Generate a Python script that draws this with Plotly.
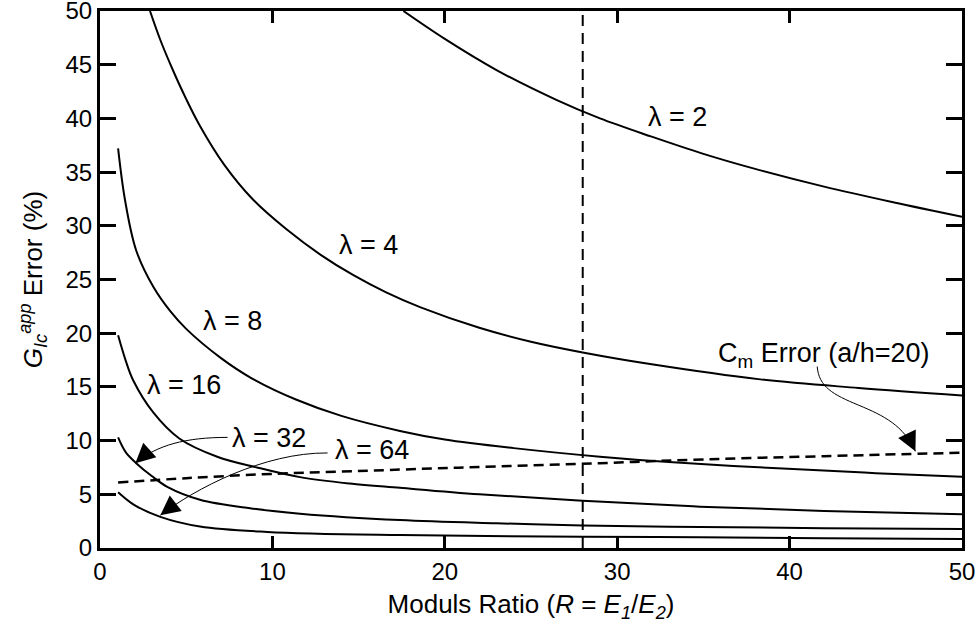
import plotly.graph_objects as go

# ---- data ----
lam2_x = [17.6, 20, 23, 26.5, 29, 32, 35, 38, 42, 46, 50]
lam2_y = [50, 47.4, 44.5, 41.7, 40.0, 38.3, 36.7, 35.3, 33.65, 32.2, 30.85]

lam4_x = [2.9, 3.5, 4.2, 5.0, 5.8, 7.2, 8.9, 10.8, 12.8, 14.7, 16.6, 18.6, 22, 25, 28, 32, 38.3, 44, 50]
lam4_y = [50, 47.3, 44.6, 41.8, 39.3, 35.7, 32.4, 29.7, 27.3, 25.4, 23.8, 22.4, 20.5, 19.2, 18.2, 17.1, 15.7, 14.9, 14.2]

lam8_x = [1.05, 1.45, 2.1, 3.1, 4.1, 5.0, 7.0, 8.8, 11.4, 14, 17.4, 20, 24, 29, 33, 39.6, 45, 50]
lam8_y = [37.2, 32.4, 27.7, 24.3, 22.0, 20.4, 17.7, 15.8, 13.8, 12.3, 10.9, 10.1, 9.3, 8.5, 8.0, 7.4, 6.97, 6.64]

lam16_x = [1.05, 1.5, 1.93, 3.1, 4.6, 6.8, 9.1, 11.6, 14.5, 17.4, 22, 28, 34.8, 42, 50]
lam16_y = [19.8, 17.4, 15.6, 12.6, 10.2, 8.5, 7.5, 6.6, 6.0, 5.6, 5.0, 4.4, 3.85, 3.45, 3.14]

lam32_x = [1.05, 1.5, 2.1, 3.0, 3.9, 5.8, 8.7, 11.6, 17.4, 23, 28, 34.8, 42, 50]
lam32_y = [10.3, 8.9, 7.9, 6.7, 5.7, 4.5, 3.7, 3.2, 2.6, 2.3, 2.1, 1.95, 1.85, 1.77]

lam64_x = [1.05, 2.0, 3.5, 5.8, 9.7, 17.4, 28, 34.8, 42, 50]
lam64_y = [5.2, 4.0, 2.9, 2.0, 1.5, 1.2, 1.05, 1.0, 0.9, 0.84]

cm_x = [1.05, 5, 10, 17.4, 23, 29, 35, 42, 50]
cm_y = [6.1, 6.5, 6.9, 7.3, 7.6, 7.9, 8.25, 8.55, 8.87]

ref_x = [28, 28]
ref_y = [0, 50]

x_ticks = [0, 10, 20, 30, 40, 50]
y_ticks = [0, 5, 10, 15, 20, 25, 30, 35, 40, 45, 50]

FONT = "Liberation Sans, Arial, sans-serif"
FS_TICK = 24
FS_TITLE = 26
FS_LAB = 27

fig = go.Figure()
for xs, ys in [(lam2_x, lam2_y), (lam4_x, lam4_y), (lam8_x, lam8_y),
               (lam16_x, lam16_y), (lam32_x, lam32_y), (lam64_x, lam64_y)]:
    fig.add_trace(go.Scatter(x=xs, y=ys, mode="lines",
                             line=dict(color="black", width=2, shape="spline", smoothing=1.0),
                             showlegend=False, hoverinfo="skip"))
fig.add_trace(go.Scatter(x=cm_x, y=cm_y, mode="lines",
                         line=dict(color="black", width=2.5, dash="10px,6px", shape="spline"),
                         showlegend=False, hoverinfo="skip"))
fig.add_trace(go.Scatter(x=ref_x, y=ref_y, mode="lines",
                         line=dict(color="black", width=2, dash="11px,7px"),
                         showlegend=False, hoverinfo="skip"))

# labels
labels = [
    ("λ = 2", 33.5, 40.1),
    ("λ = 4", 15.6, 28.2),
    ("λ = 8", 7.7, 21.1),
    ("λ = 16", 4.9, 15.2),
    ("λ = 32", 9.8, 10.2),
    ("λ = 64", 15.8, 9.1),
    ("C<sub>m</sub> Error (a/h=20)", 42.0, 18.0),
]
for t, x, y in labels:
    fig.add_annotation(x=x, y=y, text=t, showarrow=False,
                       font=dict(family=FONT, size=FS_LAB, color="black"))

# curved arrows
paths = [
    "M 7.4,10.3 C 5.0,10.3 3.3,9.6 2.05,7.9",
    "M 13.2,8.85 C 9.5,8.9 5.5,5.5 3.5,3.05",
    "M 41.6,16.9 C 41.7,15.0 42.5,14.3 44.0,13.3 C 45.5,12.3 46.6,11.4 47.3,9.0",
]
for p in paths:
    fig.add_shape(type="path", path=p, xref="x", yref="y",
                  line=dict(color="black", width=1))

heads = [
    (2.05, 7.9, 2.6, 8.7),
    (3.5, 3.05, 4.1, 3.8),
    (47.3, 9.0, 47.0, 10.0),
]
for hx, hy, tx, ty in heads:
    fig.add_annotation(x=hx, y=hy, ax=tx, ay=ty, axref="x", ayref="y",
                       xref="x", yref="y", text="", showarrow=True,
                       arrowhead=2, arrowsize=3, arrowwidth=1.3, arrowcolor="black")

axis_common = dict(showline=True, linecolor="black", linewidth=3, mirror="ticks",
                   ticks="inside", tickcolor="black", tickwidth=2.5,
                   showgrid=False, zeroline=False,
                   ticklabeloverflow="allow",
                   tickfont=dict(family=FONT, size=FS_TICK, color="black"))

fig.update_layout(
    width=979, height=632,
    margin=dict(l=100, r=17, t=11, b=84),
    plot_bgcolor="white", paper_bgcolor="white",
    xaxis=dict(range=[0, 50], tickvals=x_ticks, ticklen=12, automargin="bottom",
               title=dict(text="Moduls Ratio (<i>R</i> = <i>E</i><sub><i>1</i></sub>/<i>E</i><sub><i>2</i></sub>)",
                          font=dict(family=FONT, size=FS_TITLE, color="black"), standoff=12),
               **axis_common),
    yaxis=dict(range=[0, 50], tickvals=y_ticks, ticklen=16, automargin="left",
               title=dict(text="<i>G</i><sub><i>Ic</i></sub><sup><i>app</i></sup> Error (%)",
                          font=dict(family=FONT, size=FS_TITLE, color="black"), standoff=16),
               **axis_common),
)

# remove the page's default 8px body margin so the figure fills the window exactly
fig.write_html("out.html", config={"displayModeBar": False},
               post_script="document.body.style.margin='0';")
